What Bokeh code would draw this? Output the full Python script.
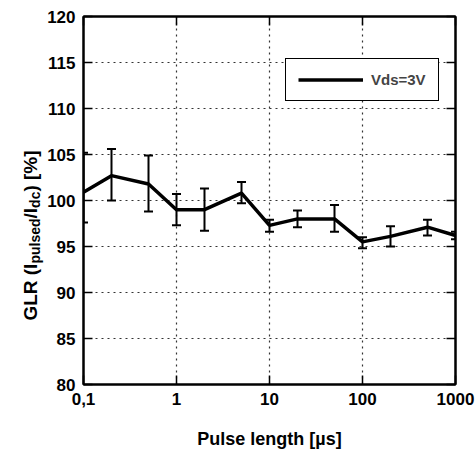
import math
from bokeh.plotting import figure
from bokeh.layouts import row
from bokeh.core.properties import value
from bokeh.models import (Range1d, FixedTicker, CustomJSTickFormatter, LinearAxis, LogAxis,
                          Whisker, TeeHead, ColumnDataSource, Legend, LegendItem)
from bokeh.embed import file_html
from bokeh.resources import INLINE

# ---- data ----
pulse_us = [0.1, 0.2, 0.5, 1, 2, 5, 10, 20, 50, 100, 200, 500, 1000]
glr = [100.9, 102.7, 101.8, 99.0, 99.0, 100.8, 97.3, 98.0, 98.0, 95.5, 96.1, 97.1, 96.2]
glr_upper = [105.2, 105.6, 104.9, 100.7, 101.3, 102.0, 97.9, 98.9, 99.5, 96.0, 97.2, 97.9, 96.6]
glr_lower = [97.6, 100.0, 98.8, 97.3, 96.7, 99.7, 96.6, 97.1, 96.6, 94.8, 95.0, 96.2, 95.8]
x_ticks = [0.1, 1, 10, 100, 1000]
y_ticks = [80, 85, 90, 95, 100, 105, 110, 115, 120]
series_name = "Vds=3V"
x_title = "Pulse length [µs]"
y_title_pieces = ["GLR (I", "pulsed", "/I", "dc", ") [%]"]
y_title_is_sub = [False, True, False, True, False]
FONT = "Liberation Sans"

src = ColumnDataSource(dict(x=pulse_us, y=glr, up=glr_upper, lo=glr_lower))

H = 457
LW = 44                     # width of the y-title strip
FL, FR, FT, FB = 82, 455, 16, 384   # frame edges on the page

# ---------- y-title strip (its frame is aligned with the main frame: y = page pixel) ----------
t = figure(width=LW, height=H, output_backend="svg", toolbar_location=None,
           x_axis_location=None, y_axis_location=None,
           x_range=Range1d(0, LW), y_range=Range1d(FB, FT),
           min_border=0, min_border_left=0, min_border_right=0, min_border_top=FT,
           min_border_bottom=H - FB)
t.grid.visible = False
t.outline_line_color = None
t.background_fill_color = "white"
t.border_fill_color = "white"

W = {"G": 778, "L": 611, "R": 722, " ": 278, "(": 333, "I": 278, "p": 611, "u": 611, "l": 278,
     "s": 556, "e": 556, "d": 611, "/": 278, "c": 556, ")": 333, "[": 333, "%": 889, "]": 333}
main_sz, sub_sz = 19, 14
def width(s, sz):
    return sum(W[c] for c in s) * sz / 1000.0
sizes = [sub_sz if s else main_sz for s in y_title_is_sub]
total = sum(width(s, z) for s, z in zip(y_title_pieces, sizes))
pos = 235 + total / 2      # page y where the title starts (its bottom end)
xs, ys, szs = [], [], []
for s, z, sub in zip(y_title_pieces, sizes, y_title_is_sub):
    xs.append(34 if sub else 30)
    ys.append(pos)
    szs.append(f"{z}px")
    pos -= width(s, z)
tsrc = ColumnDataSource(dict(x=xs, y=ys, text=y_title_pieces, size=szs))
t.text("x", "y", text="text", source=tsrc, angle=math.pi / 2, text_font=value(FONT),
       text_font_style="bold", text_font_size="size", text_align="left",
       text_baseline="alphabetic", text_color="black")

# ---------- main plot ----------
X0, X1, Y0, Y1 = 0.1, 1000, 80, 120
p = figure(width=475 - LW, height=H, x_axis_type="log", output_backend="svg",
           toolbar_location=None, x_range=Range1d(X0, X1), y_range=Range1d(Y0, Y1),
           min_border_left=FL - LW, min_border_right=475 - FR, min_border_top=FT,
           min_border_bottom=H - FB)
p.background_fill_color = "white"
p.border_fill_color = "white"
p.outline_line_color = "black"
p.outline_line_width = 2

for ax in (p.xaxis[0], p.yaxis[0]):
    ax.axis_line_width = 2
    ax.major_tick_in = 9
    ax.major_tick_out = 0
    ax.major_tick_line_width = 1.5
    ax.minor_tick_line_color = None
    ax.major_label_text_font = FONT
    ax.major_label_text_font_style = "bold"
    ax.major_label_text_font_size = "17px"
    ax.major_label_text_color = "black"

p.xaxis.ticker = FixedTicker(ticks=x_ticks)
p.xaxis.formatter = CustomJSTickFormatter(code="return tick < 0.5 ? '0,1' : tick.toFixed(0);")
p.xaxis.major_label_standoff = 8
p.xaxis.axis_label = x_title
p.xaxis.axis_label_text_font = FONT
p.xaxis.axis_label_text_font_style = "bold"
p.xaxis.axis_label_text_font_size = "18px"
p.xaxis.axis_label_text_color = "black"
p.xaxis.axis_label_standoff = 21

p.yaxis.ticker = FixedTicker(ticks=y_ticks)
p.yaxis.major_label_standoff = 8

blank = CustomJSTickFormatter(code="return '';")
top = LogAxis(ticker=FixedTicker(ticks=x_ticks), formatter=blank,
              major_tick_in=9, major_tick_out=0, major_tick_line_width=1.5,
              minor_tick_line_color=None, axis_line_width=2, major_label_standoff=0)
right = LinearAxis(ticker=FixedTicker(ticks=y_ticks), formatter=blank,
                   major_tick_in=9, major_tick_out=0, major_tick_line_width=1.5,
                   minor_tick_line_color=None, axis_line_width=2, major_label_standoff=0)
p.add_layout(top, "above")
p.add_layout(right, "right")

for g in (p.xgrid[0], p.ygrid[0]):
    g.grid_line_color = "#333333"
    g.grid_line_dash = "2 4"
    g.grid_line_width = 1.2
p.xgrid.ticker = FixedTicker(ticks=x_ticks[1:-1])
p.ygrid.ticker = FixedTicker(ticks=y_ticks[1:-1])

w = Whisker(source=src, base="x", upper="up", lower="lo", dimension="height",
            line_color="black", line_width=2,
            upper_head=TeeHead(size=9, line_width=2, line_color="black"),
            lower_head=TeeHead(size=9, line_width=2, line_color="black"))
p.add_layout(w)
ln = p.line("x", "y", source=src, line_color="black", line_width=3.5)

legend = Legend(items=[LegendItem(label=series_name, renderers=[ln])], location=(202, 283),
                padding=12, spacing=0, margin=0, glyph_width=65, glyph_height=15,
                label_height=15, label_standoff=8, border_line_color="black",
                border_line_alpha=1, border_line_width=1.5, background_fill_alpha=1,
                label_text_font=FONT, label_text_font_style="bold", label_text_font_size="15px")
p.add_layout(legend)

layout = row(t, p, spacing=0)
open("out.html", "w").write(file_html(layout, INLINE))
